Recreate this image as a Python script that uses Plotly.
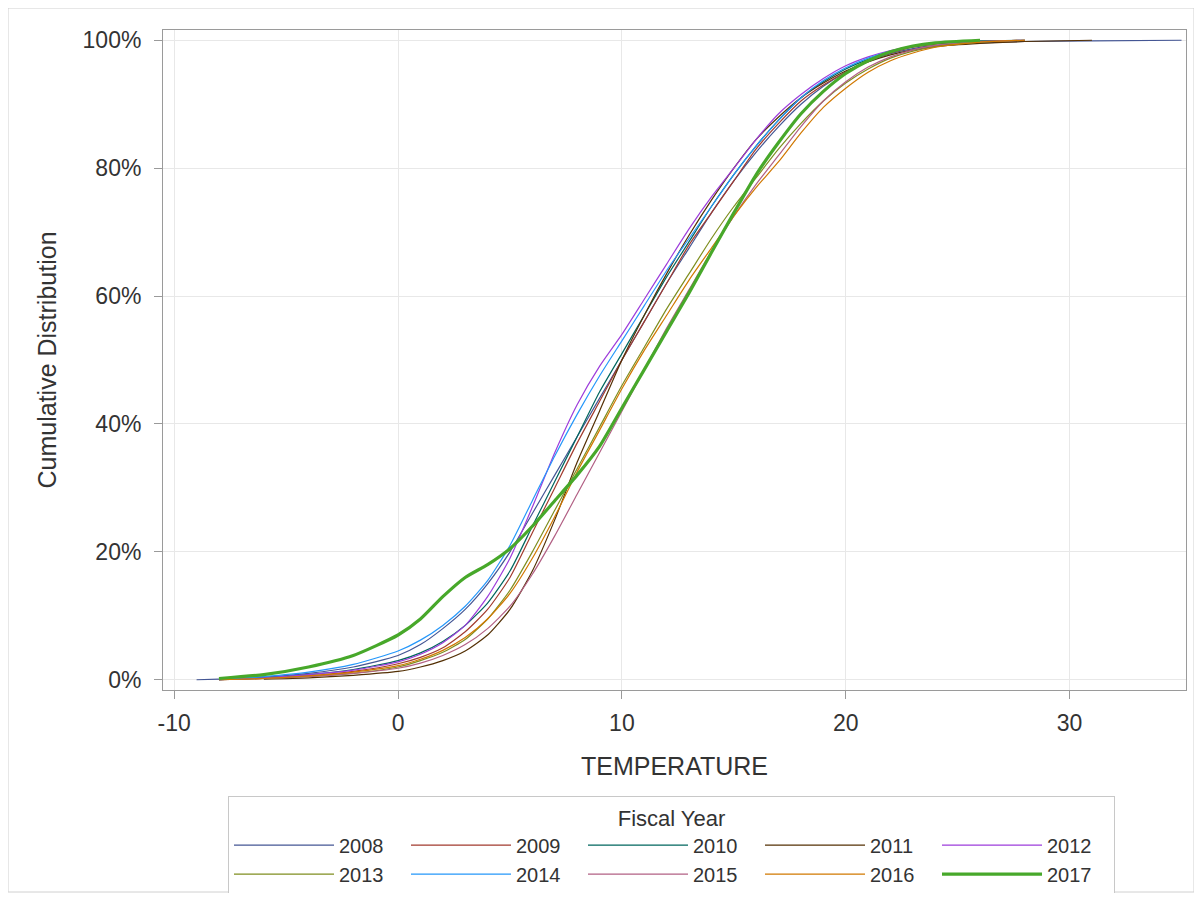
import plotly.graph_objects as go

temperature = [-9, -8, -6, -4, -2, 0, 1, 2, 3, 4, 5, 6, 7, 8, 9, 10, 11, 12, 13, 14,
               15, 16, 17, 18, 19, 20, 21, 22, 23, 24, 26, 28, 31, 35]

years = ["2008", "2009", "2010", "2011", "2012", "2013", "2014", "2015", "2016", "2017"]

N = None
cdf_2008 = [0, 0.1, 0.4, 1.0, 2.0, 3.8, 5.5, 8, 11, 15, 20, 26, 32, 38, 44, 50, 56, 62, 67.5, 73,
            78, 82.5, 86.5, 90, 92.8, 95, 96.7, 97.9, 98.7, 99.2, 99.6, 99.8, 99.9, 100]
cdf_2009 = [N, 0, 0.2, 0.6, 1.3, 2.5, 3.5, 5, 7.5, 11, 16, 23, 30, 37, 43.5, 50, 56, 62, 68, 73,
            78, 83, 87, 90.5, 93, 95, 96.8, 98, 98.9, 99.4, 99.8, 100, N, N]
cdf_2010 = [N, 0, 0.3, 0.8, 1.6, 3, 4.2, 6, 8.5, 12, 17, 24, 31, 38, 45, 51, 57, 63, 68.5, 74,
            79, 83.5, 87.5, 91, 93.5, 95.5, 97, 98.2, 99, 99.5, 99.9, 100, N, N]
cdf_2011 = [N, N, 0.1, 0.3, 0.7, 1.3, 2, 3, 4.5, 7, 11, 17, 25, 34, 42, 50, 57, 63.5, 69.5, 75,
            80, 84.5, 88, 91, 93.3, 95.2, 96.6, 97.7, 98.5, 99, 99.5, 99.8, 100, N]
cdf_2012 = [N, 0, 0.3, 0.8, 1.5, 2.8, 4, 5.8, 8.5, 13, 19, 27, 35.5, 43, 49, 54, 59.5, 65, 70.5, 75.5,
            80, 84.5, 88.5, 91.5, 94, 96, 97.4, 98.4, 99.1, 99.6, 100, N, N, N]
cdf_2013 = [N, 0, 0.2, 0.5, 1.0, 2, 3, 4.3, 6.3, 9.5, 14, 20, 26.5, 33, 39.5, 46, 52, 58, 63.5, 69,
            74, 78.5, 83, 87, 90.5, 93.3, 95.5, 97.2, 98.3, 99, 99.7, 100, N, N]
cdf_2014 = [N, 0, 0.5, 1.2, 2.4, 4.5, 6.2, 8.5, 11.5, 15.5, 21, 28, 35, 41.5, 47.5, 53, 58.5, 64, 69, 74,
            79, 83.5, 87.5, 91, 93.7, 95.7, 97.2, 98.3, 99.1, 99.6, 100, N, N, N]
cdf_2015 = [N, 0, 0.2, 0.5, 1.0, 1.8, 2.6, 3.8, 5.5, 8, 11.5, 16.5, 22.5, 29, 35.5, 42, 48.5, 55, 61, 67,
            72.5, 77.5, 82, 86.5, 90.5, 93.5, 95.8, 97.4, 98.5, 99.2, 99.8, 100, N, N]
cdf_2016 = [N, 0, 0.2, 0.6, 1.2, 2.2, 3.2, 4.6, 6.6, 9.5, 13.5, 19, 25.5, 32.5, 39, 45.5, 51.5, 57, 62.5, 67.5,
            72.5, 77, 81, 85.5, 89.5, 92.5, 95, 96.8, 98, 98.9, 99.7, 100, N, N]
cdf_2017 = [N, 0.2, 0.8, 2.0, 3.8, 7, 9.5, 13, 16, 18, 20.5, 24, 28, 32, 36.5, 42.5, 48.5, 54.5, 60.5, 66.8,
            73, 79, 84, 88.5, 92, 94.8, 96.8, 98.2, 99.1, 99.6, 100, N, N, N]

series = [cdf_2008, cdf_2009, cdf_2010, cdf_2011, cdf_2012,
          cdf_2013, cdf_2014, cdf_2015, cdf_2016, cdf_2017]
colors = ["#445694", "#A23A2E", "#01665E", "#543005", "#9D3CDB",
          "#7F8E1F", "#2597FA", "#B26084", "#D17800", "#47A82A"]
widths = [1.2] * 9 + [3.2]

x_ticks = [-10, 0, 10, 20, 30]
y_ticks = [0, 20, 40, 60, 80, 100]

FONT = "Liberation Sans, Arial, sans-serif"
TXT = "#333333"

fig = go.Figure()
for name, vals, col, w in zip(years, series, colors, widths):
    fig.add_trace(go.Scatter(
        x=temperature, y=vals, mode="lines", name=name,
        line=dict(color=col, width=w, shape="spline", smoothing=0.6),
        connectgaps=False,
    ))

# page body has an 8px margin; positions below are in figure pixels
W, H = 1186, 885
ml, mr, mt, mb = 155, 8, 22, 203
pw, ph = W - ml - mr, H - mt - mb


def px_x(x):
    return (x - ml) / pw


def px_y(y):
    return (mt + ph - y) / ph


fig.update_layout(
    width=W, height=H,
    margin=dict(l=ml, r=mr, t=mt, b=mb, autoexpand=False),
    paper_bgcolor="white", plot_bgcolor="white",
    font=dict(family=FONT, color=TXT, size=22),
    showlegend=True,
    legend=dict(
        orientation="h",
        xref="container", yref="container",
        x=663.5 / W, xanchor="center",
        y=(H - 788) / H, yanchor="top",
        title=dict(text="Fiscal Year", side="top center",
                   font=dict(size=22, family=FONT, color=TXT)),
        font=dict(size=20, family=FONT, color=TXT),
        bordercolor="#c8c8c8", borderwidth=1,
        itemwidth=100,
        entrywidth=62, entrywidthmode="pixels",
        traceorder="normal",
        tracegroupgap=0,
    ),
    xaxis=dict(
        range=[-10.5, 35.2],
        tickvals=x_ticks, ticktext=[str(v) for v in x_ticks],
        showgrid=True, gridcolor="#e8e8e8", gridwidth=1,
        zeroline=False,
        showline=True, linecolor="#9a9a9a", linewidth=1, mirror=True,
        ticks="outside", ticklen=8, tickcolor="#9a9a9a",
        ticklabelstandoff=4,
        tickfont=dict(size=23, family=FONT, color=TXT),
        title=dict(text="TEMPERATURE", font=dict(size=25, family=FONT, color=TXT), standoff=22),
    ),
    yaxis=dict(
        range=[-1.6, 101.6],
        tickvals=y_ticks, ticktext=[f"{v}%" for v in y_ticks],
        showgrid=True, gridcolor="#e8e8e8", gridwidth=1,
        zeroline=False,
        showline=True, linecolor="#9a9a9a", linewidth=1, mirror=True,
        ticks="outside", ticklen=8, tickcolor="#9a9a9a",
        ticklabelstandoff=8,
        tickfont=dict(size=23, family=FONT, color=TXT),
        title=dict(text="Cumulative Distribution", font=dict(size=25, family=FONT, color=TXT), standoff=18),
    ),
)

# outer frame of the image
fig.add_shape(
    type="rect", xref="paper", yref="paper",
    x0=px_x(0), x1=px_x(1186),
    y0=px_y(884), y1=px_y(0),
    line=dict(color="#d0d0d0", width=1), fillcolor="rgba(0,0,0,0)", layer="below",
)

fig.write_html("out.html")
